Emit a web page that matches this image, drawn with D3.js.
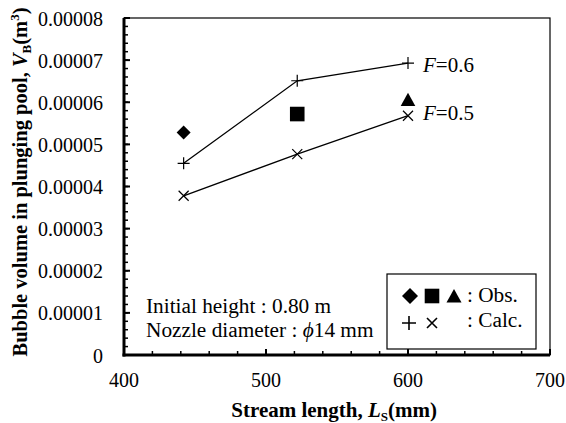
<!DOCTYPE html>
<html>
<head>
<meta charset="utf-8">
<script src="https://cdn.jsdelivr.net/npm/d3@7"></script>
<style>
body { margin: 0; background: #fff; }
svg text { font-family: "Liberation Serif", "Times New Roman", "DejaVu Serif", serif; fill: #000; }
</style>
</head>
<body>
<svg id="chart"></svg>
<script>
const width = 566;
const height = 423;

// data
const streamLength = [442, 522, 600];
const calcF06 = [0.0000455, 0.0000651, 0.0000693];
const calcF05 = [0.0000378, 0.0000477, 0.0000568];
const obsValues = [0.0000528, 0.0000572, 0.0000606];
const obsShapes = ["diamond", "square", "triangle"];
const yTicks = [0, 0.00001, 0.00002, 0.00003, 0.00004, 0.00005, 0.00006, 0.00007, 0.00008];
const xTicks = [400, 500, 600, 700];

const margin = { top: 18, right: 16, bottom: 68, left: 124 };

const svg = d3.select("#chart")
    .attr("width", width)
    .attr("height", height);

const x = d3.scaleLinear().domain([400, 700]).range([margin.left, width - margin.right]);
const y = d3.scaleLinear().domain([0, 0.00008]).range([height - margin.bottom, margin.top]);

const plot = svg.append("g");

// frame
plot.append("rect")
    .attr("x", x(400)).attr("y", y(0.00008))
    .attr("width", x(700) - x(400)).attr("height", y(0) - y(0.00008))
    .attr("fill", "none").attr("stroke", "#000").attr("stroke-width", 1.2);

// thick left and bottom axes
plot.append("line")
    .attr("x1", x(400)).attr("x2", x(400)).attr("y1", y(0.00008)).attr("y2", y(0) + 1.5)
    .attr("stroke", "#000").attr("stroke-width", 3);
plot.append("line")
    .attr("x1", x(400) - 1.5).attr("x2", x(700)).attr("y1", y(0)).attr("y2", y(0))
    .attr("stroke", "#000").attr("stroke-width", 3);

// y ticks (inside)
const yMinor = d3.range(0, 0.0000801, 0.000002);
plot.selectAll(".yminor").data(yMinor).enter().append("line")
    .attr("x1", x(400)).attr("x2", x(400) + 4)
    .attr("y1", d => y(d)).attr("y2", d => y(d))
    .attr("stroke", "#000").attr("stroke-width", 1.5);
plot.selectAll(".ymajor").data(yTicks).enter().append("line")
    .attr("x1", x(400)).attr("x2", x(400) + 6)
    .attr("y1", d => y(d)).attr("y2", d => y(d))
    .attr("stroke", "#000").attr("stroke-width", 2);
plot.selectAll(".ylab").data(yTicks).enter().append("text")
    .attr("x", x(400) - 21).attr("y", d => y(d) + 7.5)
    .attr("text-anchor", "end").attr("font-size", 20)
    .text(d => d === 0 ? "0" : d.toFixed(5));

// x ticks (inside, upward)
const xMinor = d3.range(400, 701, 20);
plot.selectAll(".xminor").data(xMinor).enter().append("line")
    .attr("x1", d => x(d)).attr("x2", d => x(d))
    .attr("y1", y(0)).attr("y2", y(0) - 4)
    .attr("stroke", "#000").attr("stroke-width", 1.5);
plot.selectAll(".xmajor").data(xTicks).enter().append("line")
    .attr("x1", d => x(d)).attr("x2", d => x(d))
    .attr("y1", y(0)).attr("y2", y(0) - 6)
    .attr("stroke", "#000").attr("stroke-width", 2);
plot.selectAll(".xlab").data(xTicks).enter().append("text")
    .attr("x", d => x(d)).attr("y", y(0) + 32)
    .attr("text-anchor", "middle").attr("font-size", 20)
    .text(d => d);

// calculated lines
const line = d3.line().x(d => x(d[0])).y(d => y(d[1]));
[calcF06, calcF05].forEach(vals => {
    plot.append("path")
        .datum(streamLength.map((s, i) => [s, vals[i]]))
        .attr("d", line)
        .attr("fill", "none").attr("stroke", "#000").attr("stroke-width", 1.3);
});

// + markers
plot.selectAll(".plus").data(streamLength.map((s, i) => [s, calcF06[i]])).enter()
    .append("path")
    .attr("transform", d => `translate(${x(d[0])},${y(d[1])})`)
    .attr("d", "M-6,0H6M0,-6V6")
    .attr("stroke", "#000").attr("stroke-width", 1.2);
// x markers
plot.selectAll(".cross").data(streamLength.map((s, i) => [s, calcF05[i]])).enter()
    .append("path")
    .attr("transform", d => `translate(${x(d[0])},${y(d[1])})`)
    .attr("d", "M-5,-5L5,5M-5,5L5,-5")
    .attr("stroke", "#000").attr("stroke-width", 1.2);

// observed markers
function shapePath(s, r) {
    if (s === "diamond") return `M0,${-r}L${r},0L0,${r}L${-r},0Z`;
    if (s === "square") return `M${-r},${-r}H${r}V${r}H${-r}Z`;
    return `M0,${-r * 0.95}L${r},${r * 0.85}H${-r}Z`;
}
const shapeR = { diamond: 7, square: 7.3, triangle: 7.3 };
plot.selectAll(".obs").data(streamLength.map((s, i) => [s, obsValues[i], obsShapes[i]])).enter()
    .append("path")
    .attr("transform", d => `translate(${x(d[0])},${y(d[1])})`)
    .attr("d", d => shapePath(d[2], shapeR[d[2]]))
    .attr("fill", "#000");

// series labels
const seriesLabels = [["0.6", calcF06[2], 8.5], ["0.5", calcF05[2], 4.5]];
seriesLabels.forEach(([f, v, dy]) => {
    const t = plot.append("text")
        .attr("x", x(600) + 15).attr("y", y(v) + dy)
        .attr("font-size", 21);
    t.append("tspan").attr("font-style", "italic").text("F");
    t.append("tspan").text("=" + f);
});

// notes
plot.append("text").attr("x", 146).attr("y", 313).attr("font-size", 21.3)
    .text("Initial height : 0.80 m");
const noz = plot.append("text").attr("x", 146).attr("y", 337).attr("font-size", 21.3);
noz.append("tspan").text("Nozzle diameter : ");
noz.append("tspan").attr("font-style", "italic").text("\u03d5");
noz.append("tspan").text("14 mm");

// legend
const lg = plot.append("g");
lg.append("rect").attr("x", 387).attr("y", 274).attr("width", 149).attr("height", 75)
    .attr("fill", "#fff").attr("stroke", "#000").attr("stroke-width", 1.2);
[["diamond", 410, 8], ["square", 432, 7.3], ["triangle", 454, 7.5]].forEach(([s, cx, r]) => {
    lg.append("path")
        .attr("transform", `translate(${cx},${296})`)
        .attr("d", shapePath(s, r))
        .attr("fill", "#000");
});
lg.append("path").attr("transform", "translate(409,323)").attr("d", "M-7,0H7M0,-7V7")
    .attr("stroke", "#000").attr("stroke-width", 1.6);
lg.append("path").attr("transform", "translate(432,323)").attr("d", "M-5,-5L5,5M-5,5L5,-5")
    .attr("stroke", "#000").attr("stroke-width", 1.6);
lg.append("text").attr("x", 467).attr("y", 302).attr("font-size", 21.3).text(": Obs.");
lg.append("text").attr("x", 467).attr("y", 327).attr("font-size", 21.3).text(": Calc.");

// axis titles
const xt = svg.append("text")
    .attr("x", x(548)).attr("y", 417)
    .attr("text-anchor", "middle").attr("font-size", 21).attr("font-weight", "bold");
xt.append("tspan").text("Stream length, ");
xt.append("tspan").attr("font-style", "italic").text("L");
xt.append("tspan").attr("font-size", 13).attr("dy", 4).text("S");
xt.append("tspan").attr("dy", -4).text("(mm)");

const yt = svg.append("text")
    .attr("transform", `translate(27,${182}) rotate(-90)`)
    .attr("text-anchor", "middle").attr("font-size", 20.5).attr("font-weight", "bold");
yt.append("tspan").text("Bubble volume in plunging pool, ");
yt.append("tspan").attr("font-style", "italic").text("V");
yt.append("tspan").attr("font-size", 13).attr("dy", 4).text("B");
yt.append("tspan").attr("dy", -4).text("(m");
yt.append("tspan").attr("font-size", 13).attr("dy", -8).text("3");
yt.append("tspan").attr("dy", 8).text(")");
</script>
</body>
</html>
